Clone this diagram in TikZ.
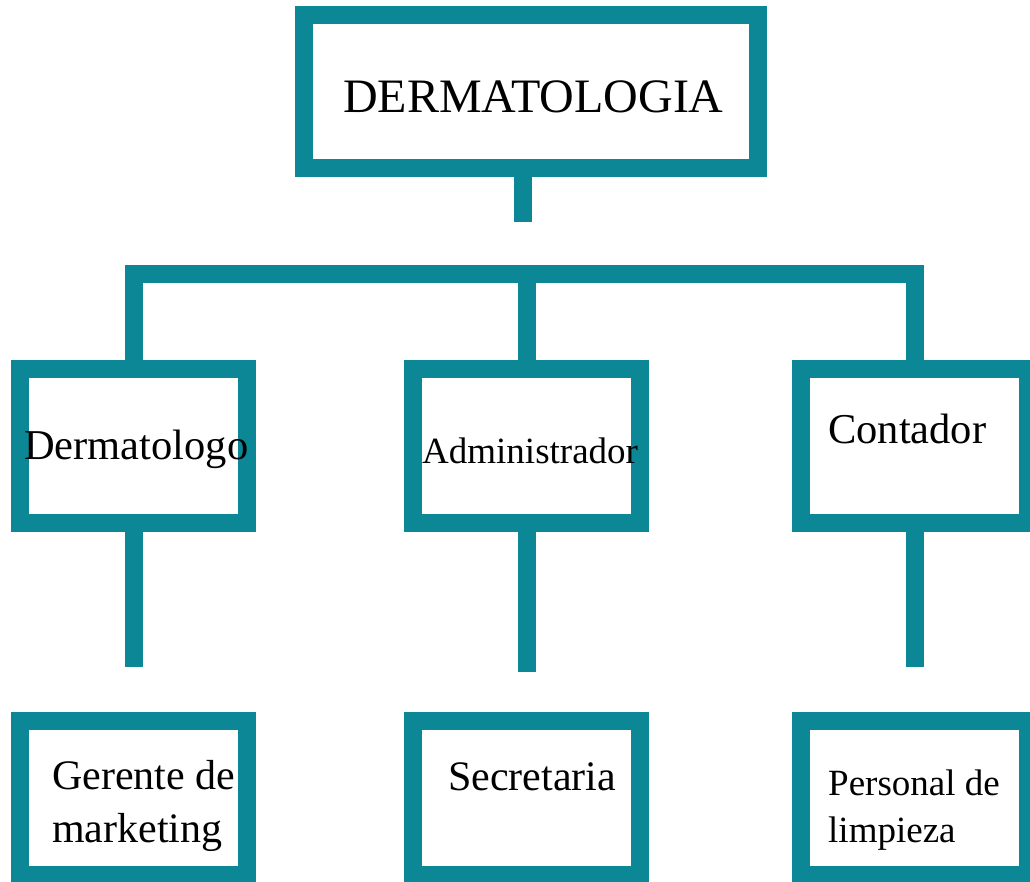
\documentclass[tikz,border=0pt]{standalone}
\usepackage{fontspec}
\setmainfont{Liberation Serif}
\definecolor{birulaut}{RGB}{11,135,150}

\begin{document}
\begin{tikzpicture}[x=1pt, y=-1pt,
    kotak/.style={draw=birulaut, line width=18pt, minimum width=227pt, minimum height=154pt, inner sep=0pt},
    garis/.style={draw=birulaut, line width=18pt},
    teks/.style={anchor=base west, inner sep=0pt, align=left}]
    \useasboundingbox (0,0) rectangle (1030,882);
    \clip (0,0) rectangle (1030,882);

    % Kotak
    \node[kotak, minimum width=454pt, minimum height=153pt] (dermatologia) at (531,91.5) {};
    \node[kotak] (dermatologo) at (133.5,446) {};
    \node[kotak] (admin) at (526.5,446) {};
    \node[kotak] (contador) at (914.5,446) {};
    \node[kotak] (gerente) at (133.5,798) {};
    \node[kotak] (secretaria) at (526.5,798) {};
    \node[kotak] (personal) at (914.5,798) {};

    % Garis penghubung
    \coordinate (ujung) at (523,222);
    \coordinate (bar) at (0,274.5);
    \draw[garis] ([xshift=-8pt]dermatologia.south) -- (ujung);
    \draw[garis] (dermatologo.north) |- (bar -| contador.north) -- (contador.north);
    \draw[garis] (admin.north) -- (admin.north |- bar);
    \foreach \a/\x/\y in {dermatologo/133.5/667, admin/526.5/672, contador/914.5/667} {
        \coordinate (\a-bawah) at (\x,\y);
        \draw[garis] (\a.south) -- (\a-bawah);
    }

    % Teks
    \node[teks, font=\fontsize{48}{58}\selectfont] (t-dermatologia) at (343,113) {DERMATOLOGIA};
    \node[teks, font=\fontsize{42.5}{50}\selectfont] (t-dermatologo) at (24,459) {Dermatologo};
    \node[teks, font=\fontsize{37}{44}\selectfont] (t-admin) at (422,463) {Administrador};
    \node[teks, font=\fontsize{42.5}{50}\selectfont] (t-contador) at (828,443) {Contador};
    \node[teks, font=\fontsize{42}{53}\selectfont] (t-gerente) at (52,842) {Gerente de\\marketing};
    \node[teks, font=\fontsize{42}{50}\selectfont] (t-secretaria) at (448,790) {Secretaria};
    \node[teks, font=\fontsize{37}{47}\selectfont] (t-personal) at (828,842) {Personal de\\limpieza};
\end{tikzpicture}
\end{document}
